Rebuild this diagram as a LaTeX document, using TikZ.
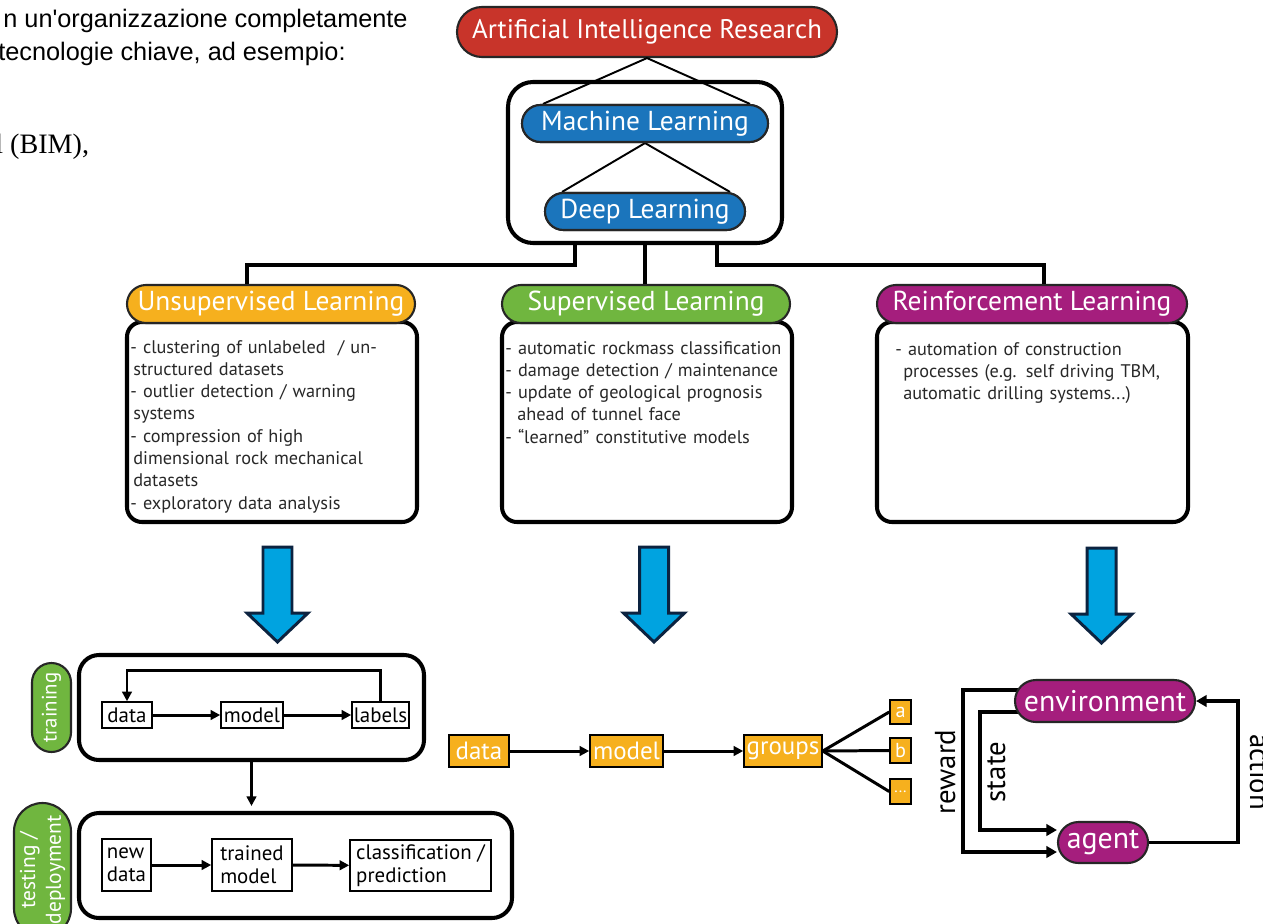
\documentclass[tikz,border=0pt]{standalone}
\usepackage{fontspec}
\setmainfont{PT Sans}
\newfontfamily\arialf{Liberation Sans}
\newfontfamily\timesf{Liberation Serif}
\usetikzlibrary{shapes.misc,arrows.meta}
\definecolor{aired}{RGB}{200,52,42}
\definecolor{mlblue}{RGB}{27,117,188}
\definecolor{orng}{RGB}{246,176,30}
\definecolor{grn}{RGB}{112,182,63}
\definecolor{mag}{RGB}{165,30,125}
\definecolor{cyanb}{RGB}{0,163,224}
\definecolor{navy}{RGB}{12,35,64}
\definecolor{txt}{RGB}{40,40,40}
\def\u{0.02cm}
\tikzset{
  pill/.style={shape=rounded rectangle, draw=black!85, line width=1.2pt, inner sep=0pt, text=white},
  hdr/.style={pill, font=\fontsize{15.6}{18}\selectfont},
  bodybox/.style={draw=black, line width=2.3pt, rounded corners=0.3cm, inner sep=0pt, minimum width=290*\u, minimum height=200*\u},
  bodytext/.style={anchor=base west, inner sep=0pt, align=left, text width=285*\u, text=txt, font=\fontsize{10.4}{12.7}\selectfont},
  conn/.style={line width=2.3pt},
  thinline/.style={line width=1.1pt},
  arr/.style={line width=1.7pt, -{Triangle[length=5.5pt,width=5.5pt]}},
  rlarr/.style={line width=2pt, -{Triangle[length=6pt,width=6.5pt]}},
  smallbox/.style={draw, line width=0.9pt, inner sep=0pt, font=\fontsize{11.9}{13.2}\selectfont, align=left},
  obox/.style={draw, fill=orng, line width=0.9pt, inner sep=0pt, text=white, font=\fontsize{14.2}{16}\selectfont},
  rllabel/.style={inner sep=0pt, font=\fontsize{16.4}{18}\selectfont},
  bigbox/.style={draw, line width=2.3pt, rounded corners=0.4cm, inner sep=0pt},
  bigarrow/.pic={\draw[line width=1.7pt, draw=navy, fill=cyanb, line join=miter] (-14.5,0) -- (14.5,0) -- (14.5,66) -- (30.5,66) -- (0,95) -- (-30.5,66) -- (-14.5,66) -- cycle;}
}
\begin{document}
\begin{tikzpicture}[x=0.02cm,y=-0.02cm]
\useasboundingbox (0,0) rectangle (1263,923);
\clip (0,0) rectangle (1263,923);
\fill[white] (0,0) rectangle (1263,923);

% background document fragment
\node[anchor=base east, inner sep=0pt, font=\arialf\fontsize{14.4}{16}\selectfont] (bg1) at (408,27) {n un'organizzazione completamente};
\node[anchor=base east, inner sep=0pt, font=\arialf\fontsize{14.4}{16}\selectfont] (bg2) at (346,60) {tecnologie chiave, ad esempio:};
\node[anchor=base west, inner sep=0pt, font=\timesf\fontsize{16}{18}\selectfont] (bg3) at (-5,153) {l (BIM),};

% hierarchy
\node[bigbox, rounded corners=0.5cm, minimum width=274*\u, minimum height=161*\u] (mlbox) at (645,162.5) {};
\coordinate (a1) at (543,0); \coordinate (a2) at (750,0);
\coordinate (b1) at (562,0); \coordinate (b2) at (730,0);
\node[hdr, fill=aired, minimum width=380*\u, minimum height=50*\u, font=\fontsize{15.3}{18}\selectfont] (ai) at (647,32) {Artificial Intelligence Research};
\node[hdr, fill=mlblue, minimum width=246*\u, minimum height=37*\u] (ml) at (645,123.5) {Machine Learning};
\node[hdr, fill=mlblue, minimum width=200*\u, minimum height=37*\u] (dl) at (645,211.5) {Deep Learning};
\draw[thinline] (ai.south) -- (ml.north -| a1);
\draw[thinline] (ai.south) -- (ml.north -| a2);
\draw[thinline] (ml.south) -- (dl.north -| b1);
\draw[thinline] (ml.south) -- (dl.north -| b2);
\node[hdr, fill=mlblue, minimum width=246*\u, minimum height=37*\u] at (ml) {Machine Learning};
\node[hdr, fill=mlblue, minimum width=200*\u, minimum height=37*\u] at (dl) {Deep Learning};

% three branches
\node[bodybox] (unsupB) at (272,422) {};
\node[bodybox] (supB) at (647,422) {};
\node[bodybox, minimum width=311*\u] (reinfB) at (1032.5,422) {};
\node[hdr, fill=orng, minimum width=288*\u, minimum height=38*\u] (unsupP) at (271,304) {Unsupervised Learning};
\node[hdr, fill=grn, minimum width=288*\u, minimum height=38*\u] (supP) at (646,304) {Supervised Learning};
\node[hdr, fill=mag, minimum width=310*\u, minimum height=38*\u] (reinfP) at (1032,304) {Reinforcement Learning};
\coordinate (jl) at (575,265); \coordinate (jr) at (717,265);
\coordinate (dl1) at (247,0); \coordinate (dr1) at (1044,0);
\draw[conn] (mlbox.south -| jl) -- (jl) -| (unsupP.north -| dl1);
\draw[conn] (mlbox.south) -- (mlbox.south |- supP.north);
\draw[conn] (mlbox.south -| jr) -- (jr) -| (reinfP.north -| dr1);

\node[bodytext] (unsupT) at (130,353) {- clustering of unlabeled\ \ / un-\\\hspace*{1.7pt}structured datasets\\- outlier detection / warning\\\hspace*{1.7pt}systems\\- compression of high\\\hspace*{1.7pt}dimensional rock mechanical\\\hspace*{1.7pt}datasets\\- exploratory data analysis};
\node[bodytext] (supT) at (505,354) {- automatic rockmass classification\\- damage detection / maintenance\\- update of geological prognosis\\\hspace*{6.8pt}ahead of tunnel face\\- “learned” constitutive models};
\node[bodytext] (reinfT) at (895,355) {- automation of construction\\\hspace*{4.5pt}processes (e.g. self driving TBM,\\\hspace*{4.5pt}automatic drilling systems...)};

% big arrows
\pic at (277.5,547) {bigarrow};
\pic at (654,547) {bigarrow};
\pic at (1101.5,548) {bigarrow};

% supervised: training / testing
\node[bigbox, minimum width=345*\u, minimum height=105*\u] (trainB) at (251.5,707.5) {};
\node[pill, fill=grn, rotate=90, minimum width=89*\u, minimum height=39*\u, font=\fontsize{11.9}{13}\selectfont] (trainP) at (51.5,707.5) {training};
\node[smallbox, minimum width=50*\u, minimum height=26*\u] (tdata) at (127,715) {data};
\node[smallbox, minimum width=62*\u, minimum height=26*\u] (tmodel) at (252,715) {model};
\node[smallbox, minimum width=57*\u, minimum height=26*\u] (tlabels) at (380.5,715) {labels};
\draw[arr] (tdata) -- (tmodel);
\draw[arr] (tmodel) -- (tlabels);
\draw[arr] (tlabels.north) -- ++(0,-31) -| (tdata.north);

\node[bigbox, minimum width=433*\u, minimum height=105*\u] (testB) at (295.5,865.5) {};
\node[pill, fill=grn, rotate=90, minimum width=134*\u, minimum height=57*\u, align=center, font=\fontsize{12.2}{14.7}\selectfont] (testP) at (42.5,870) {testing /\\deployment};
\draw[arr, shorten >=5*\u] (trainB.south) -- (trainB.south |- testB.north);
\node[smallbox, minimum width=49*\u, minimum height=52*\u] (ndata) at (126.5,865) {new\\data};
\node[smallbox, minimum width=80*\u, minimum height=52*\u] (tmod) at (252,865) {trained\\model};
\node[smallbox, minimum width=141*\u, minimum height=51*\u] (cls) at (420.5,865.5) {classification /\\prediction};
\draw[arr] (ndata) -- (tmod);
\draw[arr] (tmod) -- (cls);

% unsupervised flow
\node[obox, minimum width=60*\u, minimum height=32*\u] (odata) at (479,751) {data};
\node[obox, minimum width=73*\u, minimum height=32*\u] (omodel) at (626.5,751) {model};
\node[obox, minimum width=78*\u, minimum height=32*\u] (ogroups) at (783,751) {groups};
\node[obox, minimum width=21*\u, minimum height=24*\u, font=\fontsize{11.5}{13}\selectfont] (oa) at (900.5,712) {a};
\node[obox, minimum width=21*\u, minimum height=25*\u, font=\fontsize{11.5}{13}\selectfont] (ob) at (900.5,750.5) {b};
\node[obox, minimum width=21*\u, minimum height=25*\u, font=\fontsize{9}{10}\selectfont] (odots) at (900.5,791.5) {...};
\draw[arr] (odata) -- (omodel);
\draw[arr] (omodel) -- (ogroups);
\draw[line width=1.7pt] (ogroups.east) -- (oa.west);
\draw[line width=1.7pt] (ogroups.east) -- (ob.west);
\draw[line width=1.7pt] (ogroups.east) -- (odots.west);

% reinforcement loop
\coordinate (env0) at (1105,701);
\coordinate (rwTop) at (963,690); \coordinate (rwBot) at (963,852);
\coordinate (stTop) at (980,712); \coordinate (stBot) at (980,830);
\coordinate (acR) at (1238,0);
\node[pill, fill=mag, minimum width=90*\u, minimum height=41*\u, font=\fontsize{17}{19}\selectfont] (agent) at (1103,842.5) {agent};
\draw[rlarr] (env0 |- rwTop) -- (rwTop) -- (rwBot) -- (agent.west |- rwBot);
\draw[rlarr] (env0 |- stTop) -- (stTop) -- (stBot) -- (agent.west |- stBot);
\node[pill, fill=mag, minimum width=180*\u, minimum height=42*\u, font=\fontsize{17}{19}\selectfont] (env) at (env0) {environment};
\draw[rlarr] (agent.east) -- (agent.east -| acR) -- (acR |- env.east) -- (env.east);
\node[rllabel, rotate=90, anchor=base] (lrew) at (955,772) {reward};
\node[rllabel, rotate=90, anchor=base] (lstate) at (1005,772) {state};
\node[rllabel, rotate=-90, anchor=base] (lact) at (1250,772) {action};
\end{tikzpicture}
\end{document}
